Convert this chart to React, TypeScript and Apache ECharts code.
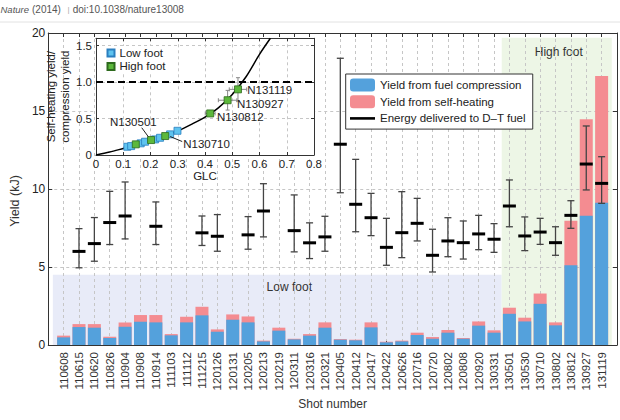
import React, { useEffect, useRef } from "react";
import * as echarts from "echarts";

const FONT = "'Liberation Sans', Arial, Helvetica, sans-serif";

// ---- Main chart data ----
const shots = [
  "110608", "110615", "110620", "110826", "110904", "110908", "110914", "111103", "111112",
  "111215", "120126", "120131", "120205", "120213", "120219", "120311", "120316", "120321",
  "120405", "120412", "120417", "120422", "120626", "120716", "120720", "120802", "120808",
  "120920", "130331", "130501", "130530", "130710", "130802", "130812", "130927", "131119",
];
const compressionYield = [
  0.49, 1.15, 1.11, 0.45, 1.17, 1.49, 1.45, 0.62, 1.45, 1.9, 0.85, 1.62, 1.45, 0.23, 0.92, 0.36,
  0.6, 1.11, 0.34, 0.3, 1.13, 0.17, 0.23, 0.64, 0.4, 0.79, 0.4, 1.24, 0.79, 2.0, 1.51, 2.64, 1.26,
  5.11, 8.29, 9.12,
];
const selfHeatingYield = [
  0.11, 0.19, 0.23, 0.08, 0.28, 0.43, 0.47, 0.08, 0.36, 0.55, 0.15, 0.34, 0.38, 0.05, 0.19, 0.04,
  0.1, 0.34, 0.04, 0.04, 0.32, 0.04, 0.05, 0.15, 0.11, 0.17, 0.05, 0.27, 0.15, 0.39, 0.24, 0.66,
  0.19, 2.86, 6.18, 8.12,
];
const energyCenter = [
  null, 6.0, 6.5, 7.85, 8.27, null, 7.61, null, null, 7.19, 6.97, null, 7.06, 8.59, null, 7.33,
  6.55, 6.93, 12.87, 9.02, 8.16, 6.26, 7.2, 7.8, 5.75, 6.67, 6.56, 7.12, 6.78, 8.91, 6.99, 7.24,
  6.56, 8.31, 11.6, 10.36,
];
const energyLow = [
  null, 4.95, 5.37, 6.44, 6.8, null, 6.44, null, null, 6.38, 6.01, null, 6.14, 6.93, null, 5.97,
  5.54, 6.01, 9.76, 7.26, 7.01, 5.11, 5.6, 6.67, 4.68, 5.66, 5.51, 6.11, 5.94, 7.58, 6.05, 6.45,
  5.75, 7.48, 9.94, 9.08,
];
const energyHigh = [
  null, 7.46, 8.17, 9.85, 10.45, null, 9.17, null, null, 8.27, 8.36, null, 8.23, 10.34, null, 9.62,
  7.83, 8.25, 18.38, 11.9, 9.72, 8.12, 9.83, 9.4, 7.42, 8.16, 7.95, 8.31, 7.78, 10.58, 8.21, 8.12,
  7.58, 9.25, 14.04, 12.07,
];
// shaded regions: [xStart, xEnd, yStart, yEnd] in axis units
const lowFootSpan = [0.3, 29.5, 0, 4.5];
const highFootSpan = [29.5, 36.66, 0, 19.7];

// ---- Inset data ----
const curveGlc = [0, 0.05, 0.1, 0.15, 0.2, 0.25, 0.3, 0.35, 0.4, 0.45, 0.5, 0.55, 0.6, 0.64];
const curveRatio = [0, 0.04, 0.09, 0.14, 0.2, 0.26, 0.33, 0.42, 0.52, 0.65, 0.83, 1.07, 1.38, 1.6];
const lowFootGlc = [0.115, 0.129, 0.164, 0.18, 0.217, 0.235, 0.272, 0.299];
const lowFootRatio = [0.113, 0.122, 0.16, 0.182, 0.214, 0.236, 0.283, 0.332];
const highFootNames = ["N130530", "N130501", "N130710", "N130812", "N130927", "N131119"];
const highFootGlc = [0.146, 0.202, 0.254, 0.419, 0.483, 0.521];
const highFootRatio = [0.146, 0.205, 0.26, 0.57, 0.751, 0.9];
const highFootGlcErr = [0, 0, 0, 0.018, 0.034, 0.032];
const highFootRatioErr = [0, 0, 0, 0.03, 0.135, 0.16];
const labeledShots = ["N130501", "N130710", "N130812", "N130927", "N131119"];

const inkLabelLayout: Record<string, { dx: number; dy: number; align: string; leader?: number[] }> = {
  N130501: { dx: -17.7, dy: -17.7, align: "center", leader: [-9.3, -12.3, -2.7, -3.3] },
  N130710: { dx: 18, dy: 8, align: "left", leader: [17, 5.5, 5, 0.5] },
  N130812: { dx: 6.7, dy: 3.7, align: "left" },
  N130927: { dx: 9.4, dy: 4, align: "left" },
  N131119: { dx: 9.3, dy: 1, align: "left" },
};

const BLUE = "#54a1dc";
const PINK = "#f48c91";

export default function App() {
  const ref = useRef<HTMLDivElement>(null);
  useEffect(() => {
    if (!ref.current) return;
    const chart = echarts.init(ref.current, undefined, { renderer: "svg" });

    const axisColor = "#333";
    const gridDash = { color: "#c6c6c6", type: [3, 3] as any, width: 1 };
    const fmtInset = (v: number) => (Math.abs(v) < 1e-9 ? "0" : v.toFixed(1));

    const energyData: number[][] = [];
    shots.forEach((_, i) => {
      if (energyCenter[i] != null) {
        energyData.push([i + 1, energyCenter[i] as number, energyLow[i] as number, energyHigh[i] as number]);
      }
    });

    const errData: number[][] = [];
    highFootNames.forEach((_, i) => {
      if (highFootGlcErr[i] > 0 || highFootRatioErr[i] > 0) {
        errData.push([highFootGlc[i], highFootRatio[i], highFootGlcErr[i], highFootRatioErr[i]]);
      }
    });
    const labelData = labeledShots.map((n) => {
      const i = highFootNames.indexOf(n);
      return [highFootGlc[i], highFootRatio[i]];
    });

    const option: any = {
      animation: false,
      textStyle: { fontFamily: FONT },
      graphic: [
        { type: "line", shape: { x1: 0, y1: 22, x2: 620, y2: 22 }, style: { stroke: "#e2e2e2", lineWidth: 1 } },
        { type: "text", x: 0.5, y: 9.5, style: { text: "Nature", fontStyle: "italic", fontSize: 9.5, fill: "#555", verticalAlign: "middle", fontFamily: FONT } },
        { type: "text", x: 32, y: 9.5, style: { text: "(2014)", fontSize: 10, fill: "#555", verticalAlign: "middle", fontFamily: FONT } },
        { type: "text", x: 67.5, y: 9.5, style: { text: "|", fontSize: 8, fill: "#aaa", verticalAlign: "middle", fontFamily: FONT } },
        { type: "text", x: 72.7, y: 9.5, style: { text: "doi:10.1038/nature13008", fontSize: 10, fill: "#555", verticalAlign: "middle", fontFamily: FONT } },
      ],
      legend: [
        {
          data: [
            "Yield from fuel compression",
            "Yield from self-heating",
            { name: "Energy delivered to D–T fuel", icon: "path://M0,0M0,5.2H25V7.8H0ZM25,13" },
          ],
          orient: "vertical",
          left: 345.7,
          top: 74,
          itemWidth: 25,
          itemHeight: 13,
          itemGap: 3.7,
          padding: [4.5, 7, 4.2, 4.3],
          borderColor: "#333",
          borderWidth: 1,
          backgroundColor: "#fff",
          selectedMode: false,
          z: 6,
          textStyle: { fontSize: 11.5, lineHeight: 13, color: "#222", fontFamily: FONT },
        },
        {
          data: ["Low foot", "High foot"],
          orient: "vertical",
          left: 105,
          top: 46,
          itemWidth: 7,
          itemHeight: 7,
          itemGap: 1.4,
          padding: [1, 2, 1, 1.5],
          backgroundColor: "#fff",
          selectedMode: false,
          z: 8,
          textStyle: { fontSize: 11.5, lineHeight: 12, color: "#222", fontFamily: FONT },
        },
      ],
      grid: [
        { left: 38, top: 33, width: 579, height: 312, show: false },
        { left: 96, top: 38.3, width: 218, height: 116.7, show: true, backgroundColor: "#fff", borderWidth: 0, z: 3 },
      ],
      xAxis: [
        {
          gridIndex: 0, type: "value", min: 0, max: 37, interval: 1, position: "bottom", z: 1,
          axisLine: { show: true, onZero: false, lineStyle: { color: axisColor, width: 1 } },
          axisTick: { show: true, inside: true, length: 4, lineStyle: { color: axisColor } },
          axisLabel: {
            rotate: 90, margin: 7, fontSize: 11.5, color: "#333", fontFamily: FONT,
            formatter: (v: number) => (v >= 1 && v <= shots.length ? shots[v - 1] : ""),
          },
          splitLine: { show: true, lineStyle: gridDash },
          name: "Shot number", nameLocation: "middle", nameGap: 46,
          nameTextStyle: { fontSize: 12, color: "#333", fontFamily: FONT },
        },
        {
          gridIndex: 0, type: "value", min: 0, max: 37, interval: 1, position: "top", z: 1,
          axisLine: { show: true, onZero: false, lineStyle: { color: axisColor, width: 1 } },
          axisTick: { show: true, inside: true, length: 4, lineStyle: { color: axisColor } },
          axisLabel: { show: false }, splitLine: { show: false },
        },
        {
          gridIndex: 1, type: "value", min: 0, max: 0.8, interval: 0.1, position: "bottom", z: 4,
          axisLine: { show: true, onZero: false, lineStyle: { color: axisColor, width: 1 } },
          axisTick: { show: true, inside: true, length: 3, lineStyle: { color: axisColor } },
          axisLabel: { margin: 2.5, fontSize: 11.5, color: "#222", fontFamily: FONT, formatter: fmtInset },
          splitLine: { show: true, lineStyle: gridDash },
          name: "GLC", nameLocation: "middle", nameGap: 14,
          nameTextStyle: { fontSize: 11.5, color: "#222", fontFamily: FONT },
        },
        {
          gridIndex: 1, type: "value", min: 0, max: 0.8, interval: 0.1, position: "top", z: 4,
          axisLine: { show: true, onZero: false, lineStyle: { color: axisColor, width: 1 } },
          axisTick: { show: true, inside: true, length: 3, lineStyle: { color: axisColor } },
          axisLabel: { show: false }, splitLine: { show: false },
        },
      ],
      yAxis: [
        {
          gridIndex: 0, type: "value", min: 0, max: 20, interval: 5, position: "left", z: 1,
          axisLine: { show: true, onZero: false, lineStyle: { color: axisColor, width: 1 } },
          axisTick: { show: true, inside: true, length: 4, lineStyle: { color: axisColor } },
          axisLabel: { margin: 3, fontSize: 12, color: "#222", fontFamily: FONT },
          splitLine: { show: true, lineStyle: gridDash },
          name: "Yield (kJ)", nameLocation: "middle", nameGap: 22,
          nameTextStyle: { fontSize: 12.5, color: "#333", fontFamily: FONT, padding: [0, 24, 0, 0] },
        },
        {
          gridIndex: 0, type: "value", min: 0, max: 20, interval: 5, position: "right", z: 1,
          axisLine: { show: true, onZero: false, lineStyle: { color: axisColor, width: 1 } },
          axisTick: { show: true, inside: true, length: 4, lineStyle: { color: axisColor } },
          axisLabel: { show: false }, splitLine: { show: false },
        },
        {
          gridIndex: 1, type: "value", min: 0, max: 1.6, interval: 0.5, position: "left", z: 4,
          axisLine: { show: true, onZero: false, lineStyle: { color: axisColor, width: 1 } },
          axisTick: { show: true, inside: true, length: 3, lineStyle: { color: axisColor } },
          axisLabel: {
            margin: 4, fontSize: 11.5, color: "#222", fontFamily: FONT,
            formatter: (v: number) => (v > 1.55 ? "" : fmtInset(v)),
          },
          splitLine: { show: true, lineStyle: gridDash },
          name: "Self-heating yield/\ncompression yield", nameLocation: "middle", nameGap: 20,
          nameTextStyle: { fontSize: 11.5, lineHeight: 14, color: "#222", fontFamily: FONT },
        },
        {
          gridIndex: 1, type: "value", min: 0, max: 1.6, interval: 0.5, position: "right", z: 4,
          axisLine: { show: true, onZero: false, lineStyle: { color: axisColor, width: 1 } },
          axisTick: { show: true, inside: true, length: 3, lineStyle: { color: axisColor } },
          axisLabel: { show: false }, splitLine: { show: false },
        },
      ],
      series: [
        {
          name: "Yield from self-heating",
          type: "bar",
          xAxisIndex: 0, yAxisIndex: 0,
          barWidth: 13,
          barGap: "-100%",
          itemStyle: { color: PINK },
          z: 2,
          // pink bar spans compression + self-heating; the blue bar covers its lower part
          data: selfHeatingYield.map((v, i) => [i + 1, compressionYield[i] + v]),
          markArea: {
            silent: true,
            z: 0,
            label: { color: "#333", fontSize: 12, fontFamily: FONT, position: "insideTop", distance: 6 },
            data: [
              [
                { name: "Low foot", xAxis: lowFootSpan[0], yAxis: lowFootSpan[2], itemStyle: { color: "#e8ebf8" }, label: { offset: [12, 0] } },
                { xAxis: lowFootSpan[1], yAxis: lowFootSpan[3] },
              ],
              [
                { name: "High foot", xAxis: highFootSpan[0], yAxis: highFootSpan[2], itemStyle: { color: "#edf6e6" }, label: { offset: [2, 2] } },
                { xAxis: highFootSpan[1], yAxis: highFootSpan[3] },
              ],
            ],
          },
        },
        {
          name: "Yield from fuel compression",
          type: "bar",
          xAxisIndex: 0, yAxisIndex: 0,
          barWidth: 13,
          barGap: "-100%",
          itemStyle: { color: BLUE },
          z: 2,
          data: compressionYield.map((v, i) => [i + 1, v]),
        },
        {
          name: "Energy delivered to D–T fuel",
          type: "custom",
          xAxisIndex: 0, yAxisIndex: 0,
          z: 3,
          itemStyle: { color: "#000" },
          encode: { x: 0, y: [1, 2, 3] },
          data: energyData,
          renderItem: (_p: any, api: any) => {
            const x = api.value(0);
            const pc = api.coord([x, api.value(1)]);
            const pl = api.coord([x, api.value(2)]);
            const ph = api.coord([x, api.value(3)]);
            const cap = 3.5;
            const half = 6.5;
            const ws = { stroke: "#444", lineWidth: 1.3 };
            return {
              type: "group",
              children: [
                { type: "line", shape: { x1: pl[0], y1: pl[1], x2: ph[0], y2: ph[1] }, style: ws },
                { type: "line", shape: { x1: pl[0] - cap, y1: pl[1], x2: pl[0] + cap, y2: pl[1] }, style: ws },
                { type: "line", shape: { x1: ph[0] - cap, y1: ph[1], x2: ph[0] + cap, y2: ph[1] }, style: ws },
                { type: "line", shape: { x1: pc[0] - half, y1: pc[1], x2: pc[0] + half, y2: pc[1] }, style: { stroke: "#000", lineWidth: 3 } },
              ],
            };
          },
        },
        // ---- inset ----
        {
          name: "GLC curve",
          type: "line",
          xAxisIndex: 2, yAxisIndex: 2,
          z: 5,
          smooth: 0.3,
          symbol: "none",
          lineStyle: { color: "#000", width: 1.5 },
          data: curveGlc.map((g, i) => [g, curveRatio[i]]),
          markLine: {
            silent: true,
            symbol: "none",
            z: 5,
            label: { show: false },
            lineStyle: { color: "#000", width: 2, type: [7, 4] },
            data: [{ yAxis: 1 }],
          },
        },
        {
          name: "inset error",
          type: "custom",
          xAxisIndex: 2, yAxisIndex: 2,
          z: 6,
          data: errData,
          renderItem: (_p: any, api: any) => {
            const x = api.value(0), y = api.value(1), ex = api.value(2), ey = api.value(3);
            const l = api.coord([x - ex, y]), r = api.coord([x + ex, y]);
            const b = api.coord([x, y - ey]), t = api.coord([x, y + ey]);
            const c = 2;
            const s = { stroke: "#888", lineWidth: 1 };
            return {
              type: "group",
              children: [
                { type: "line", shape: { x1: l[0], y1: l[1], x2: r[0], y2: r[1] }, style: s },
                { type: "line", shape: { x1: b[0], y1: b[1], x2: t[0], y2: t[1] }, style: s },
                { type: "line", shape: { x1: l[0], y1: l[1] - c, x2: l[0], y2: l[1] + c }, style: s },
                { type: "line", shape: { x1: r[0], y1: r[1] - c, x2: r[0], y2: r[1] + c }, style: s },
                { type: "line", shape: { x1: b[0] - c, y1: b[1], x2: b[0] + c, y2: b[1] }, style: s },
                { type: "line", shape: { x1: t[0] - c, y1: t[1], x2: t[0] + c, y2: t[1] }, style: s },
              ],
            };
          },
        },
        {
          name: "Low foot",
          type: "scatter",
          xAxisIndex: 2, yAxisIndex: 2,
          z: 7,
          symbol: "rect",
          symbolSize: 7,
          itemStyle: { color: "#5ec3ef", borderColor: "#2a7fbf", borderWidth: 0.8, opacity: 1 },
          data: lowFootGlc.map((g, i) => [g, lowFootRatio[i]]),
        },
        {
          name: "High foot",
          type: "scatter",
          xAxisIndex: 2, yAxisIndex: 2,
          z: 7,
          symbol: "rect",
          symbolSize: 7,
          itemStyle: { color: "#5cb83b", borderColor: "#2d6a1d", borderWidth: 0.8, opacity: 1 },
          data: highFootGlc.map((g, i) => ({ name: highFootNames[i], value: [g, highFootRatio[i]] })),
        },
        {
          name: "inset labels",
          type: "custom",
          xAxisIndex: 2, yAxisIndex: 2,
          z: 8,
          data: labelData,
          renderItem: (p: any, api: any) => {
            const name = labeledShots[p.dataIndex];
            const L = inkLabelLayout[name];
            const pt = api.coord([api.value(0), api.value(1)]);
            const children: any[] = [
              {
                type: "text",
                x: pt[0] + L.dx,
                y: pt[1] + L.dy,
                style: { text: name, fill: "#222", fontSize: 11.5, fontFamily: FONT, align: L.align, verticalAlign: "middle" },
              },
            ];
            if (L.leader) {
              children.push({
                type: "line",
                shape: { x1: pt[0] + L.leader[0], y1: pt[1] + L.leader[1], x2: pt[0] + L.leader[2], y2: pt[1] + L.leader[3] },
                style: { stroke: "#222", lineWidth: 1 },
              });
            }
            return { type: "group", children };
          },
        },
      ],
    };

    chart.setOption(option);
    return () => chart.dispose();
  }, []);

  return <div ref={ref} style={{ position: "fixed", left: 0, top: 0, width: 620, height: 420, background: "#fff" }} />;
}
